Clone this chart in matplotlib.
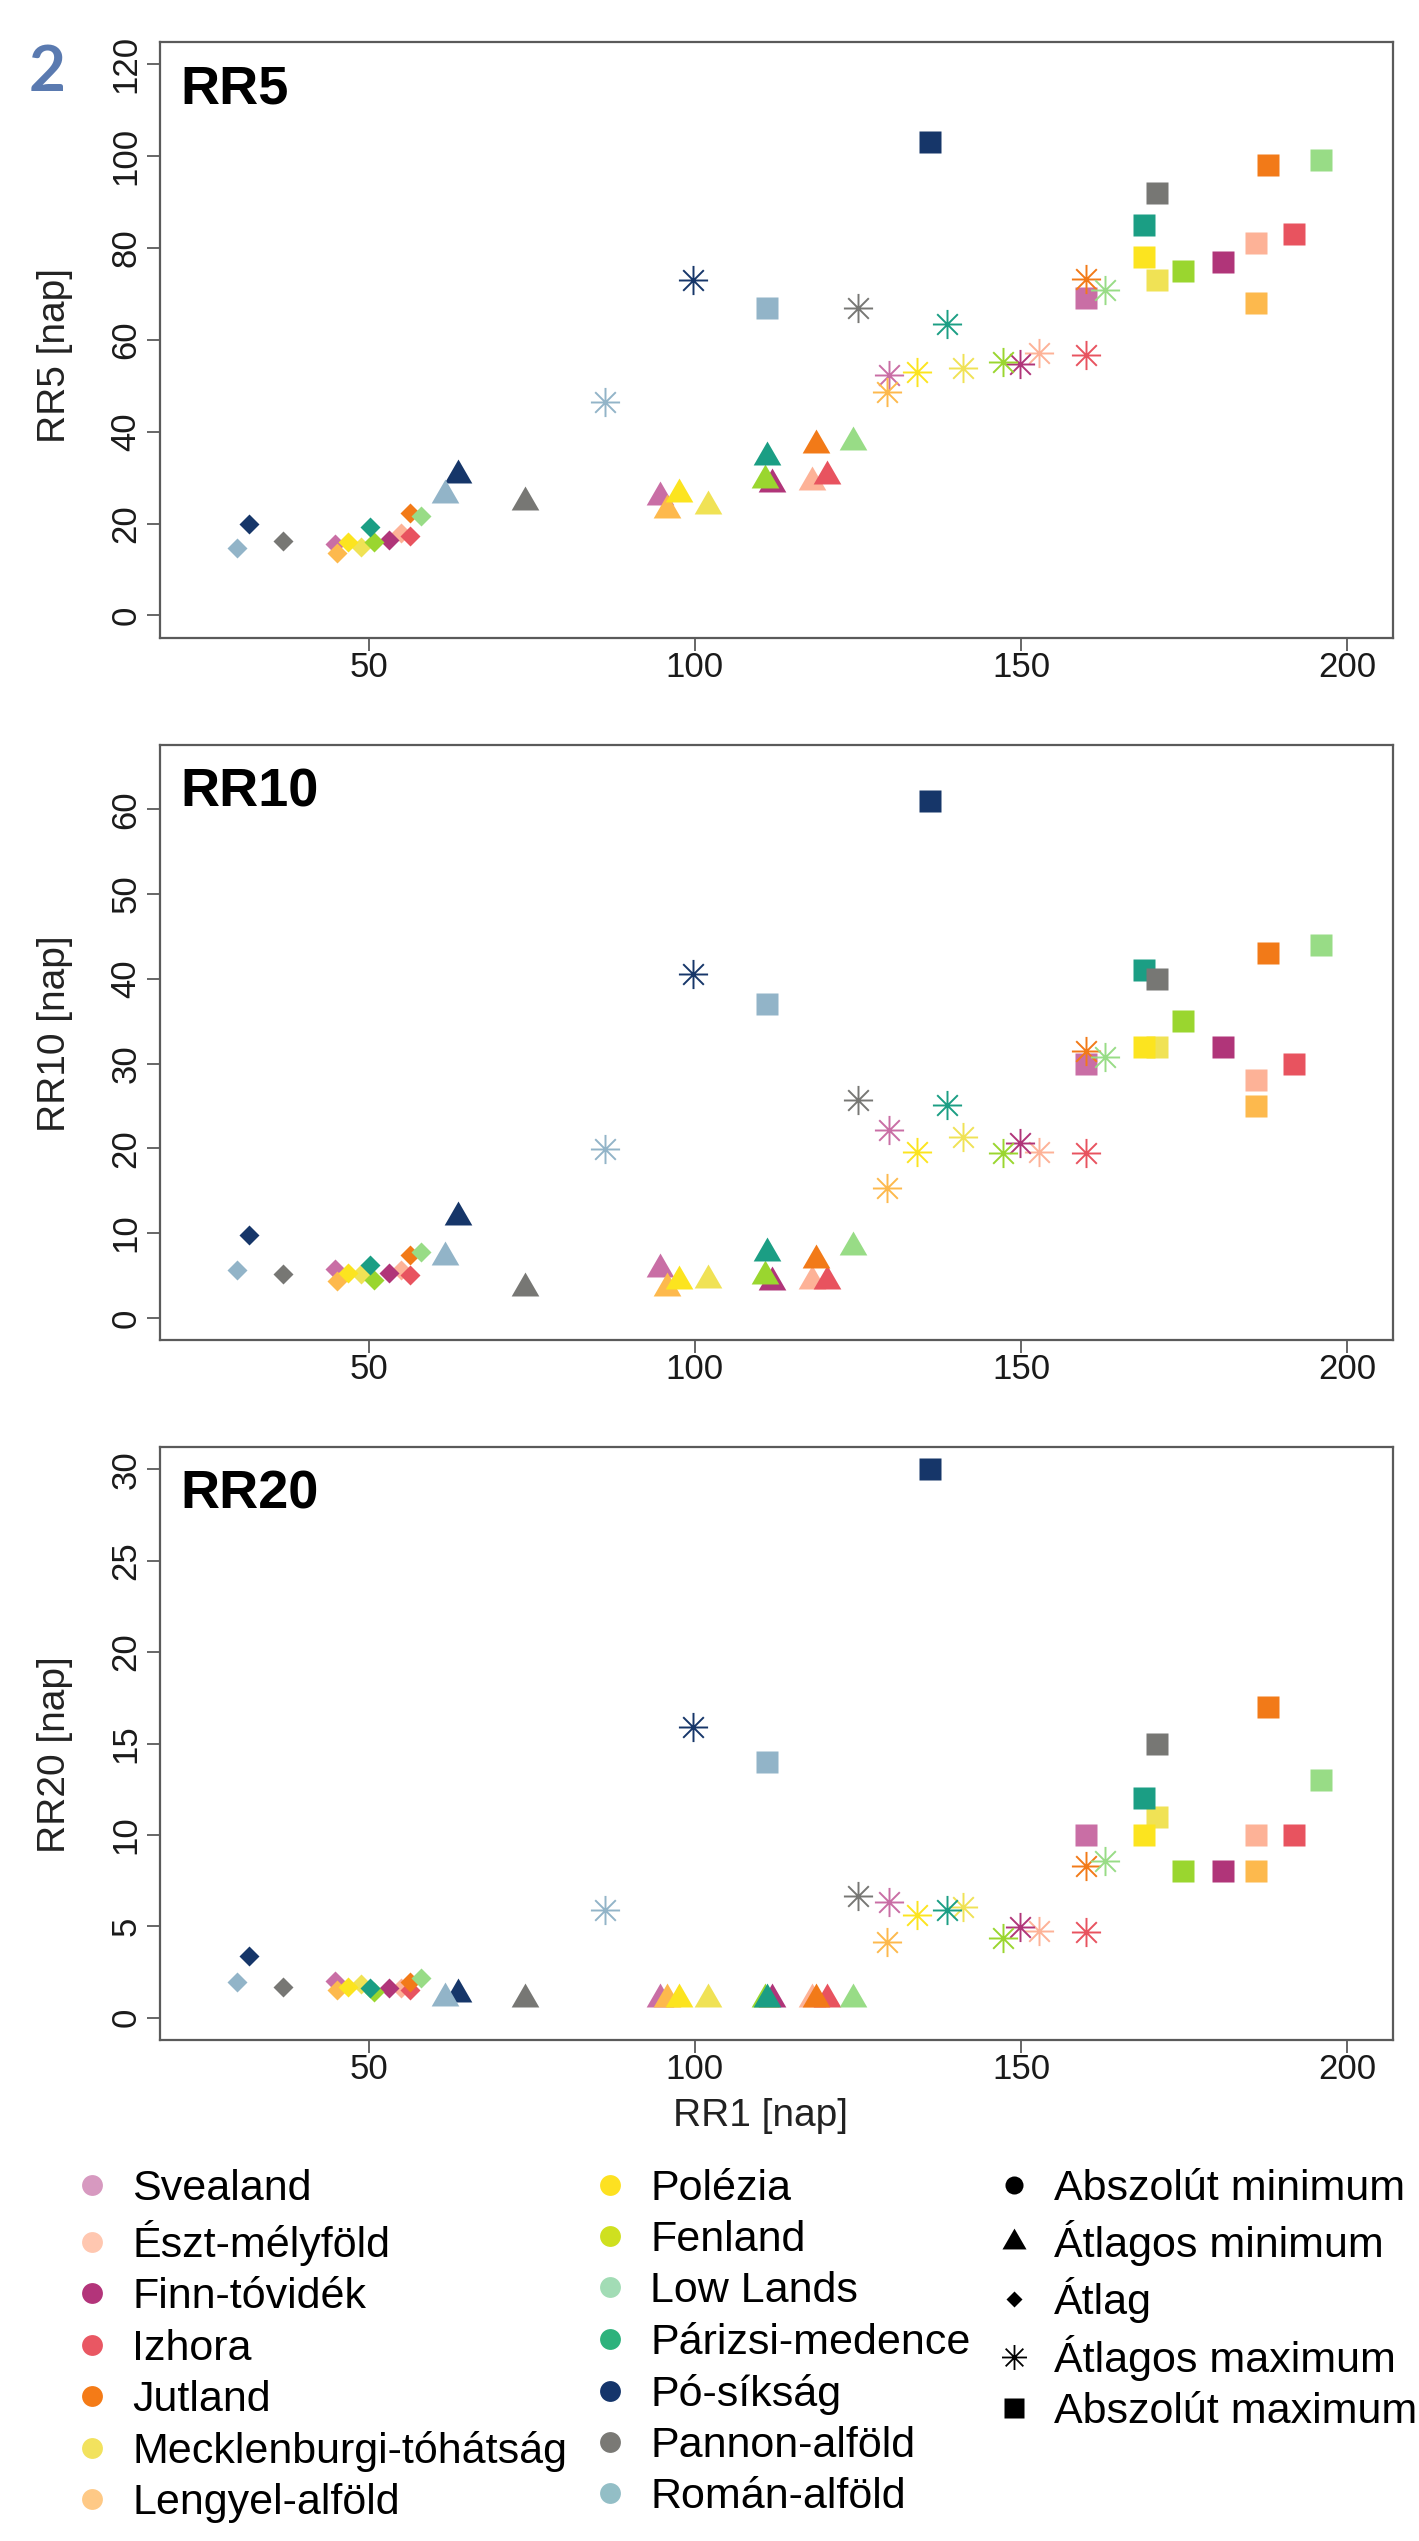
import matplotlib
matplotlib.use("Agg")
import matplotlib.pyplot as plt
from matplotlib.path import Path
from matplotlib.lines import Line2D

plt.rcParams['font.family'] = ['Liberation Sans', 'DejaVu Sans']

# regions, in legend order
regions = ["Svealand", "Észt-mélyföld", "Finn-tóvidék", "Izhora", "Jutland",
           "Mecklenburgi-tóhátság", "Lengyel-alföld", "Polézia", "Fenland",
           "Low Lands", "Párizsi-medence", "Pó-síkság", "Pannon-alföld", "Román-alföld"]
plot_colors = ["#c96ea5", "#fdb297", "#b03579", "#e8535f", "#f27a18", "#f0e255", "#fdb94d",
               "#fce41f", "#9ad62f", "#98dc86", "#1b9e84", "#163669", "#777774", "#92b4c8"]
legend_colors = ["#d799c0", "#ffc7b0", "#b3347a", "#e95763", "#f47b17", "#f2e25e", "#fec986",
                 "#fde121", "#cfe01f", "#a2dcb5", "#2db27c", "#15356b", "#7a7975", "#93bec6"]

stat_labels = ["Abszolút minimum", "Átlagos minimum", "Átlag", "Átlagos maximum", "Abszolút maximum"]

# RR1 [nap] for each statistic
x_mean = [44.9, 54.9, 53.2, 56.3, 56.3, 48.8, 45.1, 46.8, 50.8, 58.1, 50.2, 31.7, 36.9, 29.9]
x_min = [94.6, 117.9, 111.8, 120.2, 118.6, 102.0, 95.8, 97.6, 110.7, 124.2, 111.1, 63.7, 74.0, 61.7]
x_max = [129.8, 152.7, 149.8, 160.0, 160.0, 141.1, 129.5, 134.0, 147.3, 162.8, 138.6, 99.8, 125.0, 86.2]
x_absmax = [160.0, 186.0, 180.9, 191.9, 187.9, 170.9, 186.0, 168.8, 174.9, 196.0, 168.8, 136.0, 170.9, 111.1]

# RR5
rr5_mean = [15.6, 17.9, 16.5, 17.2, 22.4, 14.9, 13.7, 16.0, 16.0, 21.7, 19.3, 20.0, 16.2, 14.6]
rr5_min = [25.7, 29.0, 28.5, 30.4, 37.2, 23.8, 22.9, 26.5, 29.5, 37.8, 34.4, 30.6, 24.8, 26.2]
rr5_max = [52.4, 57.1, 54.7, 56.6, 73.3, 53.8, 48.6, 53.0, 55.2, 70.8, 63.4, 72.9, 66.8, 46.4]
rr5_absmax = [69, 81, 77, 83, 98, 73, 68, 78, 75, 99, 85, 103, 92, 67]

# RR10
rr10_mean = [5.8, 5.6, 5.3, 5.1, 7.4, 5.2, 4.3, 5.3, 4.5, 7.8, 6.2, 9.8, 5.2, 5.6]
rr10_min = [5.8, 4.4, 4.2, 4.4, 6.8, 4.5, 3.5, 4.3, 4.9, 8.3, 7.7, 11.9, 3.5, 7.2]
rr10_max = [22.1, 19.6, 20.6, 19.5, 31.5, 21.3, 15.3, 19.6, 19.4, 30.8, 25.1, 40.6, 25.7, 19.9]
rr10_absmax = [30, 28, 32, 30, 43, 32, 25, 32, 35, 44, 41, 61, 40, 37]

# RR20
rr20_mean = [2.0, 1.6, 1.63, 1.5, 1.94, 1.83, 1.5, 1.68, 1.42, 2.2, 1.63, 3.36, 1.68, 1.94]
rr20_min = [1.0, 1.0, 1.0, 1.0, 1.0, 1.0, 1.0, 1.0, 1.0, 1.0, 1.0, 1.3, 1.0, 1.1]
rr20_max = [6.33, 4.73, 4.99, 4.68, 8.3, 6.07, 4.16, 5.64, 4.34, 8.55, 5.9, 15.9, 6.67, 5.9]
rr20_absmax = [10, 10, 8, 10, 17, 11, 8, 10, 8, 13, 12, 30, 15, 14]

panels = [
    ("RR5", "RR5 [nap]", 120, range(0, 121, 20), rr5_mean, rr5_min, rr5_max, rr5_absmax, 0.473),
    ("RR10", "RR10 [nap]", 65, range(0, 61, 10), rr10_mean, rr10_min, rr10_max, rr10_absmax, 0.514),
    ("RR20", "RR20 [nap]", 30, range(0, 31, 5), rr20_mean, rr20_min, rr20_max, rr20_absmax, 0.482),
]
axes_pos = [[0.1126, 0.7491, 0.869, 0.2344],
            [0.1126, 0.4727, 0.869, 0.2342],
            [0.1126, 0.1973, 0.869, 0.2331]]

# R-like markers: triangle centred on its centroid, 8-spoke asterisk
tri = Path([(0, 1), (-0.866, -0.5), (0.866, -0.5), (0, 1)],
           [Path.MOVETO, Path.LINETO, Path.LINETO, Path.CLOSEPOLY])
a = 0.7071
star = Path([(-1, 0), (1, 0), (0, -1), (0, 1), (-a, -a), (a, a), (-a, a), (a, -a)],
            [Path.MOVETO, Path.LINETO] * 4)

spine_col = "#5a5a5a"
fig = plt.figure(figsize=(14.19, 25.41), dpi=100)

for k, (title, ylab, ytop, yticks, ymean, ymin, ymax, yabs, ylab_y) in enumerate(panels):
    ax = fig.add_axes(axes_pos[k])
    for i in range(len(regions)):
        c = plot_colors[i]
        ax.plot(x_min[i], ymin[i], ls='none', marker=tri, ms=23, color=c, mec='none')
        ax.plot(x_mean[i], ymean[i], ls='none', marker='D', ms=10, color=c, mec='none')
        ax.plot(x_max[i], ymax[i], ls='none', marker=star, ms=21, mfc='none', mec=c, mew=1.4)
        ax.plot(x_absmax[i], yabs[i], ls='none', marker='s', ms=15.5, color=c, mec='none')
    ax.set_xlim(18, 207)
    ax.set_ylim(-0.04 * ytop, ytop * 1.04)
    ax.set_xticks([50, 100, 150, 200])
    ax.set_yticks(list(yticks))
    for s in ax.spines.values():
        s.set_color(spine_col)
        s.set_linewidth(1.6)
    ax.tick_params(direction='out', length=9.5, width=1.3, color=spine_col,
                   labelsize=25, labelcolor="#1a1a1a")
    ax.tick_params(axis='x', pad=0)
    ax.tick_params(axis='y', pad=3)
    plt.setp(ax.get_yticklabels(), rotation=90, va='center')
    ax.set_ylabel(ylab, fontsize=28, color="#222222")
    ax.yaxis.set_label_coords(-0.070, ylab_y)
    ax.text(0.017, 0.92, title, transform=ax.transAxes, fontsize=39,
            fontweight='bold', va='center', ha='left', color='black')
    if k == 2:
        ax.set_xlabel("RR1 [nap]", fontsize=28, color="#222222")
        ax.xaxis.label.set_va('center')
        ax.xaxis.set_label_coords(0.487, -0.129)

fig.text(0.033, 0.9713, "2", fontsize=46, fontweight='bold', color="#5a7ab0",
         family=['Lato', 'DejaVu Sans'], ha='center', va='center')

handles = []
labels = []
for i in range(len(regions)):
    handles.append(Line2D([], [], ls='none', marker='o', ms=15, color=legend_colors[i], mec='none'))
    labels.append(regions[i])
stat_markers = [('o', 13, True), (tri, 20, True), ('D', 8.5, True), (star, 18, False), ('s', 14, True)]
for (m, ms, filled), lab in zip(stat_markers, stat_labels):
    if filled:
        handles.append(Line2D([], [], ls='none', marker=m, ms=ms, color='black', mec='none'))
    else:
        handles.append(Line2D([], [], ls='none', marker=m, ms=ms, mfc='none', mec='black', mew=1.3))
    labels.append(lab)
for _ in range(2):
    handles.append(Line2D([], [], ls='none'))
    labels.append("")

fig.legend(handles, labels, ncol=3, loc='upper left', bbox_to_anchor=(0.0498, 0.1464),
           frameon=False, fontsize=31, handlelength=1.0, handletextpad=0.43,
           columnspacing=0.5, labelspacing=0.26, borderpad=0, borderaxespad=0)

fig.savefig("out.png", dpi=100)
